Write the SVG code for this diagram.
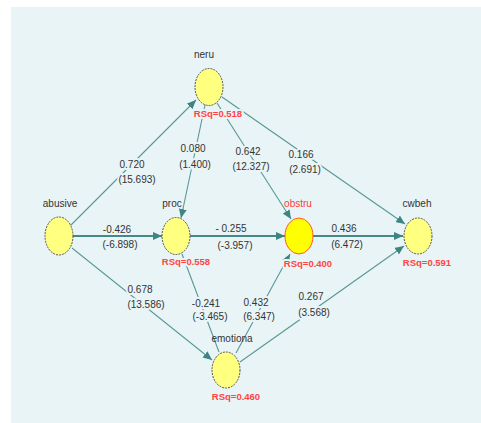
<svg xmlns="http://www.w3.org/2000/svg" width="481" height="423" viewBox="0 0 481 423">
  <style>
    .panel { fill: #e9f4f6; }
    .edge { stroke: #5a9797; stroke-width: 1.1; fill: none; }
    .edge.main { stroke-width: 2; stroke: #468888; }
    .node { fill: #ffff80; stroke: #555555; stroke-width: 1; stroke-dasharray: 2 1; }
    .node.hi { fill: #ffff00; stroke: #ff5a2a; stroke-dasharray: none; }
    text { font-family: "Liberation Sans", Arial, sans-serif; font-size: 10px; text-anchor: middle; }
    .lbl { fill: #333333; stroke: #e9f4f6; stroke-width: 4; paint-order: stroke; stroke-linejoin: round; }
    .name { fill: #333333; }
    .name.red { fill: #ff3a3a; }
    .rsq { fill: #ff4444; font-size: 9.5px; font-weight: bold; stroke: #e9f4f6; stroke-width: 4; paint-order: stroke; stroke-linejoin: round; }
  </style>
  <defs>
    <marker id="arrow" markerUnits="userSpaceOnUse" markerWidth="9" markerHeight="8" refX="9" refY="4" orient="auto">
      <path d="M0,0 L9,4 L0,8 Z" fill="#3f8484"/>
    </marker>
  </defs>

  <rect class="panel" x="11" y="7" width="470" height="416"/>

  <g id="connectors">
    <line class="edge" x1="71" y1="225" x2="196" y2="100" marker-end="url(#arrow)"/>
    <line class="edge main" x1="73" y1="236" x2="162" y2="236" marker-end="url(#arrow)"/>
    <line class="edge" x1="72" y1="248" x2="212" y2="360" marker-end="url(#arrow)"/>
    <line class="edge" x1="205" y1="105" x2="181" y2="218" marker-end="url(#arrow)"/>
    <line class="edge" x1="217" y1="103" x2="291" y2="219" marker-end="url(#arrow)"/>
    <line class="edge" x1="222" y1="97" x2="405" y2="224" marker-end="url(#arrow)"/>
    <line class="edge main" x1="190" y1="236" x2="285" y2="236" marker-end="url(#arrow)"/>
    <line class="edge main" x1="313" y1="236" x2="403" y2="236" marker-end="url(#arrow)"/>
    <line class="edge" x1="182" y1="254" x2="219" y2="352"/>
    <line class="edge" x1="236" y1="353" x2="290" y2="254" marker-end="url(#arrow)"/>
    <line class="edge" x1="240" y1="362" x2="404" y2="246" marker-end="url(#arrow)"/>

    <text class="lbl" x="132" y="168">0.720</text>
    <text class="lbl" x="137" y="183">(15.693)</text>
    <text class="lbl" x="117" y="233">-0.426</text>
    <text class="lbl" x="120" y="248">(-6.898)</text>
    <text class="lbl" x="140" y="293">0.678</text>
    <text class="lbl" x="146" y="308">(13.586)</text>
    <text class="lbl" x="193" y="152">0.080</text>
    <text class="lbl" x="195" y="168">(1.400)</text>
    <text class="lbl" x="248" y="155">0.642</text>
    <text class="lbl" x="251" y="170">(12.327)</text>
    <text class="lbl" x="301" y="158">0.166</text>
    <text class="lbl" x="305" y="173">(2.691)</text>
    <text class="lbl" x="231" y="232">- 0.255</text>
    <text class="lbl" x="235" y="249">(-3.957)</text>
    <text class="lbl" x="344" y="232">0.436</text>
    <text class="lbl" x="347" y="248">(6.472)</text>
    <text class="lbl" x="206" y="307">-0.241</text>
    <text class="lbl" x="210" y="320">(-3.465)</text>
    <text class="lbl" x="256" y="306">0.432</text>
    <text class="lbl" x="259" y="320">(6.347)</text>
    <text class="lbl" x="311" y="300">0.267</text>
    <text class="lbl" x="314" y="316">(3.568)</text>
  </g>

  <g id="node-neru">
    <ellipse class="node" cx="209" cy="87" rx="14" ry="18.5"/>
    <text class="name" x="204" y="58">neru</text>
    <text class="rsq" x="218" y="117">RSq=0.518</text>
  </g>

  <g id="node-abusive">
    <ellipse class="node" cx="59" cy="236" rx="14" ry="19"/>
    <text class="name" x="60" y="207">abusive</text>
  </g>

  <g id="node-proc">
    <ellipse class="node" cx="176" cy="236" rx="14" ry="18.5"/>
    <text class="name" x="172" y="207">proc</text>
    <text class="rsq" x="186" y="265">RSq=0.558</text>
  </g>

  <g id="node-obstru">
    <ellipse class="node hi" cx="299" cy="236" rx="14" ry="18"/>
    <text class="name red" x="298" y="207">obstru</text>
    <text class="rsq" x="308" y="267">RSq=0.400</text>
  </g>

  <g id="node-cwbeh">
    <ellipse class="node" cx="418" cy="236" rx="14" ry="18"/>
    <text class="name" x="417" y="207">cwbeh</text>
    <text class="rsq" x="427" y="266">RSq=0.591</text>
  </g>

  <g id="node-emotiona">
    <ellipse class="node" cx="226" cy="370" rx="14" ry="18"/>
    <text class="name" x="232" y="342">emotiona</text>
    <text class="rsq" x="236" y="400">RSq=0.460</text>
  </g>
</svg>
